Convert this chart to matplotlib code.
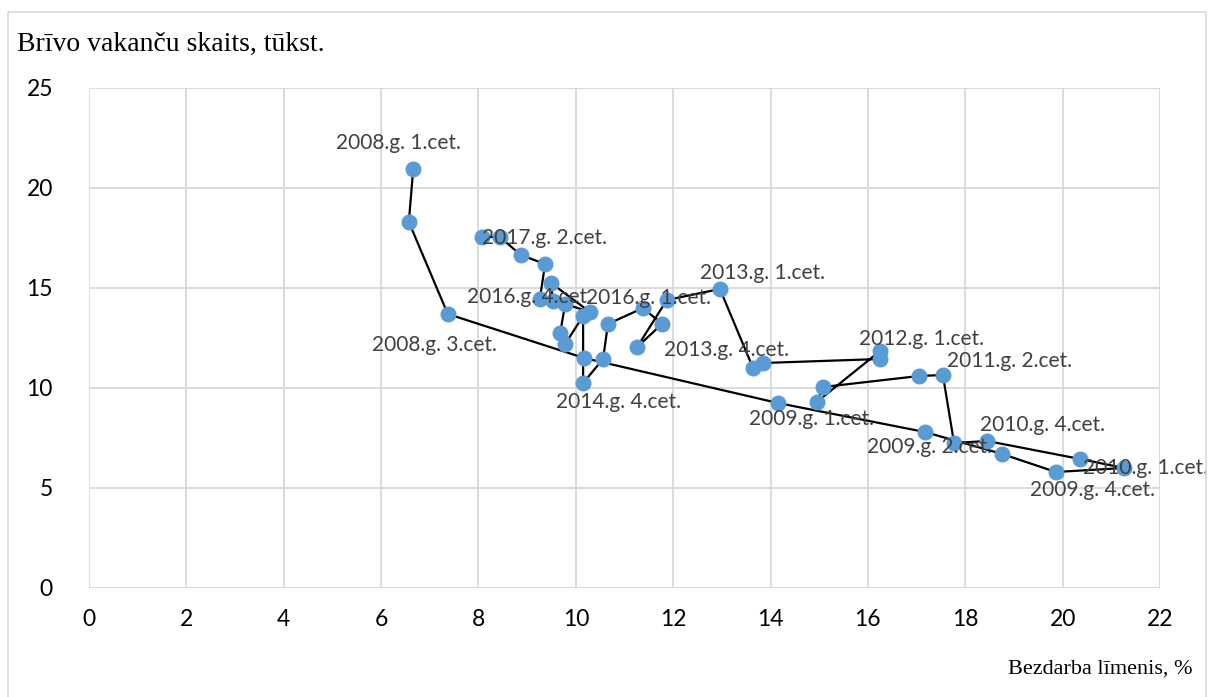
import matplotlib
matplotlib.use("Agg")
import matplotlib.pyplot as plt
from matplotlib.patches import Rectangle

# Unemployment rate (%) and vacancies (thousand), 2008Q1 .. 2017Q4
unemployment = [6.66, 6.57, 7.37, 10.17,
                14.15, 17.17, 18.76, 19.86,
                21.26, 20.36, 18.45, 17.77,
                17.54, 17.05, 15.08, 14.95,
                16.25, 16.25, 13.85, 13.64,
                12.96, 11.87, 11.26, 11.77,
                11.38, 10.66, 10.56, 10.15,
                10.15, 9.78, 9.68, 9.78,
                10.29, 9.49, 9.53, 9.26,
                9.37, 8.87, 8.44, 8.07]
vacancies = [20.95, 18.3, 13.7, 11.5,
             9.25, 7.8, 6.7, 5.8,
             6.0, 6.45, 7.35, 7.25,
             10.65, 10.6, 10.05, 9.3,
             11.85, 11.45, 11.25, 11.0,
             14.95, 14.4, 12.05, 13.2,
             14.0, 13.2, 11.45, 10.25,
             13.6, 12.2, 12.75, 14.2,
             13.8, 15.25, 14.35, 14.45,
             16.2, 16.65, 17.55, 17.55]

# labelled points: index into the series and label text
label_idx = [0, 2, 4, 5, 7, 8, 11, 13, 16, 20, 23, 27, 32, 35, 37]
label_txt = ["2008.g. 1.cet.", "2008.g. 3.cet.", "2009.g. 1.cet.", "2009.g. 2.cet.",
             "2009.g. 4.cet.", "2010.g. 1.cet.", "2010.g. 4.cet.", "2011.g. 2.cet.",
             "2012.g. 1.cet.", "2013.g. 1.cet.", "2013.g. 4.cet.", "2014.g. 4.cet.",
             "2016.g. 1.cet.", "2016.g. 4.cet.", "2017.g. 2.cet."]
# label offsets in pixels (dx right, dy up)
label_off = [(-15, 26), (-13, -31), (34, -16), (5, -15),
             (37, -18), (22, 0), (88, 18), (90, 15),
             (41, 12), (43, 16), (65, -26), (35, -19),
             (59, 14), (-10, 2), (24, 17)]

x_ticks = list(range(0, 23, 2))
y_ticks = list(range(0, 26, 5))

W, H = 1209, 697
fig = plt.figure(figsize=(W / 100, H / 100), dpi=100)
fig.patch.set_facecolor("white")
fig.add_artist(Rectangle((8 / W, -0.02), (1206 - 8) / W, 1.02 - 12 / H,
                         transform=fig.transFigure, fill=False,
                         edgecolor="#d9d9d9", linewidth=1.2))

ax = fig.add_axes([89 / W, 1 - 588 / H, (1160 - 89) / W, (588 - 88) / H])
ax.set_xlim(0, 22)
ax.set_ylim(0, 25)
ax.set_xticks(x_ticks)
ax.set_yticks(y_ticks)
ax.grid(True, color="#d9d9d9", linewidth=1.3)
ax.set_axisbelow(True)
for s in ax.spines.values():
    s.set_visible(False)
ax.tick_params(length=0, labelsize=16.5, labelcolor="black")
ax.tick_params(axis="x", pad=15)
ax.tick_params(axis="y", pad=26)
for t in ax.get_xticklabels() + ax.get_yticklabels():
    t.set_fontfamily("Lato")

ax.plot(unemployment, vacancies, color="black", linewidth=1.6, zorder=2,
        marker="o", markersize=10.5, markerfacecolor="#5b9bd5",
        markeredgecolor="#5b9bd5")

for i, txt, (dx, dy) in zip(label_idx, label_txt, label_off):
    ax.annotate(txt, (unemployment[i], vacancies[i]), xytext=(dx, dy),
                textcoords="offset pixels", ha="center", va="center",
                fontsize=15, color="#404040", family="Lato", zorder=3)

fig.text(17 / W, 1 - 44 / H, "Brīvo vakanču skaits, tūkst.", family="Liberation Serif",
         fontsize=20, ha="left", va="center")
fig.text(1192 / W, 1 - 669 / H, "Bezdarba līmenis, %", family="Liberation Serif",
         fontsize=16, ha="right", va="center")

fig.savefig("out.png", dpi=100)
